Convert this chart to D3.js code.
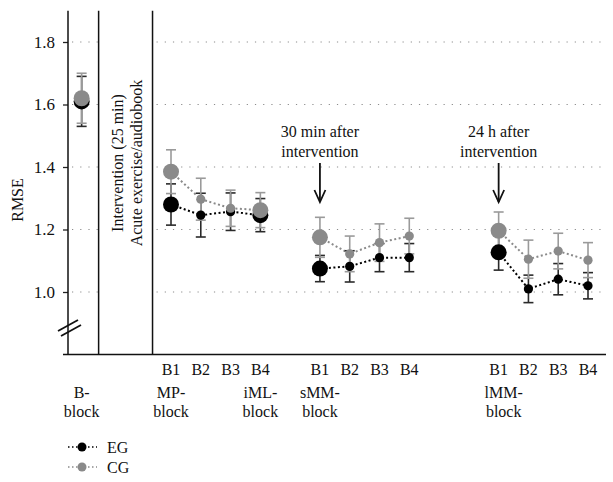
<!DOCTYPE html>
<html><head><meta charset="utf-8">
<script src="https://cdn.jsdelivr.net/npm/d3@7"></script>
<style>
body{margin:0;background:#fff;}
svg text{font-family:"Liberation Serif","Times New Roman",serif;fill:#111;}
</style></head><body><svg id="chart" width="613" height="482"></svg>
<script>
// ---- data ----
const slots      = [-3, 0, 1, 2, 3, 5, 6, 7, 8, 11, 12, 13, 14];
const tickLabels = ["", "B1","B2","B3","B4","B1","B2","B3","B4","B1","B2","B3","B4"];
const segments   = [0, 1, 1, 1, 1, 2, 2, 2, 2, 3, 3, 3, 3];
const fullBlock  = [true, true, false, false, true, true, false, false, false, true, false, false, false];
const egMean = [1.610, 1.280, 1.246, 1.257, 1.246, 1.075, 1.082, 1.110, 1.110, 1.127, 1.010, 1.041, 1.020];
const egErr  = [0.080, 0.066, 0.070, 0.060, 0.053, 0.042, 0.050, 0.045, 0.045, 0.057, 0.044, 0.050, 0.042];
const cgMean = [1.620, 1.385, 1.297, 1.268, 1.262, 1.175, 1.122, 1.158, 1.179, 1.196, 1.105, 1.131, 1.102];
const cgErr  = [0.080, 0.070, 0.067, 0.058, 0.056, 0.064, 0.057, 0.060, 0.057, 0.060, 0.061, 0.057, 0.056];
const blockLabels = ["B-", "MP-", "iML-", "sMM-", "lMM-"];
const blockSlots  = [-3, 0, 3, 5, 11.17];
const yTicks = [1.0, 1.2, 1.4, 1.6, 1.8];
const dividerSlots = [-2.43, -0.62];
const annotations = [
  {slot: 5,  lines: ["30 min after", "intervention"]},
  {slot: 11, lines: ["24 h after", "intervention"]}
];
const interventionText = ["Intervention (25 min)", "Acute exercise/audiobook"];
const seriesNames = ["EG", "CG"];

// ---- layout ----
const svg = d3.select("#chart");
const FS = 16;
const x = d3.scaleLinear().domain([0, 14]).range([171, 588]);
const y = d3.scaleLinear().domain([1.0, 1.8]).range([292, 42]);
const axisX = 68, gridEnd = 606;
const yTop = y(1.9), yBot = y(0.8);
const colEG = "#000", colCG = "#8a8a8a", errEG = "#2a2a2a", errCG = "#9a9a9a";

// gridlines (skip intervention column)
const gridSegs = [[axisX, x(dividerSlots[0])], [x(dividerSlots[1]), gridEnd]];
yTicks.forEach(t => {
  gridSegs.forEach(([a, b]) => {
    svg.append("line").attr("x1", a + 4).attr("x2", b).attr("y1", y(t)).attr("y2", y(t))
      .attr("stroke", "#8c8c8c").attr("stroke-width", 1.2).attr("stroke-dasharray", "1.2,7");
  });
});

// y axis
const yAxis = d3.axisLeft(y).tickValues(yTicks).tickFormat(d3.format(".1f")).tickSize(5).tickPadding(8);
const ag = svg.append("g").attr("transform", `translate(${axisX},0)`).call(yAxis);
ag.select(".domain").remove();
ag.selectAll(".tick line").attr("stroke", "#222").attr("stroke-width", 1.3);
ag.selectAll(".tick text").attr("font-size", 17).attr("font-family", "Liberation Serif").attr("fill", "#111");

// vertical lines
[axisX, x(dividerSlots[0]), x(dividerSlots[1])].forEach(px => {
  svg.append("line").attr("x1", px).attr("x2", px).attr("y1", yTop).attr("y2", yBot)
    .attr("stroke", "#111").attr("stroke-width", 1.5);
});
// bottom line
svg.append("line").attr("x1", axisX - 5).attr("x2", gridEnd).attr("y1", yBot).attr("y2", yBot)
  .attr("stroke", "#111").attr("stroke-width", 1.5);

// axis break
[[0, 0], [3, 5]].forEach(([dx, dy]) => {
  svg.append("line").attr("x1", 58 + dx).attr("y1", 331 + dy).attr("x2", 78 + dx).attr("y2", 320 + dy)
    .attr("stroke", "#111").attr("stroke-width", 1.8);
});

// y label
svg.append("text").attr("transform", `translate(23,200) rotate(-90)`).attr("text-anchor", "middle")
  .attr("font-size", FS).text("RMSE");

// intervention text
interventionText.forEach((t, i) => {
  svg.append("text").attr("transform", `translate(${123 + i * 19},163) rotate(-90)`)
    .attr("text-anchor", "middle").attr("font-size", FS).text(t);
});

// annotations + arrows
annotations.forEach(a => {
  const cx = x(a.slot);
  a.lines.forEach((l, i) => {
    svg.append("text").attr("x", cx).attr("y", 136.5 + i * 20).attr("text-anchor", "middle")
      .attr("font-size", FS).text(l);
  });
  svg.append("line").attr("x1", cx).attr("x2", cx).attr("y1", 163).attr("y2", 202)
    .attr("stroke", "#111").attr("stroke-width", 1.8);
  svg.append("path").attr("d", `M${cx - 5.5},${190} L${cx},${202} L${cx + 5.5},${190}`)
    .attr("fill", "none").attr("stroke", "#111").attr("stroke-width", 1.8);
});

// x tick labels
slots.forEach((s, i) => {
  if (!tickLabels[i]) return;
  svg.append("text").attr("x", x(s)).attr("y", 375).attr("text-anchor", "middle")
    .attr("font-size", FS).text(tickLabels[i]);
});
// block labels
blockLabels.forEach((b, i) => {
  const cx = x(blockSlots[i]);
  svg.append("text").attr("x", cx).attr("y", 398).attr("text-anchor", "middle").attr("font-size", FS).text(b);
  svg.append("text").attr("x", cx).attr("y", 416.5).attr("text-anchor", "middle").attr("font-size", FS).text("block");
});

// series
const series = [
  {name: seriesNames[0], mean: egMean, err: egErr, col: colEG, ecol: errEG},
  {name: seriesNames[1], mean: cgMean, err: cgErr, col: colCG, ecol: errCG}
];
const rad = i => fullBlock[i] ? 8 : 4.6;

// connecting lines
series.forEach(s => {
  [1, 2, 3].forEach(seg => {
    const idx = slots.map((_, i) => i).filter(i => segments[i] === seg);
    const line = d3.line().x(i => x(slots[i])).y(i => y(s.mean[i]));
    svg.append("path").attr("d", line(idx)).attr("fill", "none").attr("stroke", s.col)
      .attr("stroke-width", 2).attr("stroke-dasharray", "2,2.5");
  });
});
// error bars
series.forEach(s => {
  slots.forEach((sl, i) => {
    const cx = x(sl), lo = y(s.mean[i] - s.err[i]), hi = y(s.mean[i] + s.err[i]);
    const g = svg.append("g").attr("stroke", s.ecol).attr("stroke-width", 1.6);
    g.append("line").attr("x1", cx).attr("x2", cx).attr("y1", lo).attr("y2", hi);
    [lo, hi].forEach(v => g.append("line").attr("x1", cx - 5).attr("x2", cx + 5).attr("y1", v).attr("y2", v));
  });
});
// points
series.forEach(s => {
  slots.forEach((sl, i) => {
    svg.append("circle").attr("cx", x(sl)).attr("cy", y(s.mean[i])).attr("r", rad(i)).attr("fill", s.col);
  });
});

// legend
series.forEach((s, i) => {
  const ly = 447 + i * 20;
  svg.append("line").attr("x1", 68).attr("x2", 97).attr("y1", ly).attr("y2", ly)
    .attr("stroke", s.col).attr("stroke-width", 1.6).attr("stroke-dasharray", "1.5,2.5");
  svg.append("circle").attr("cx", 82).attr("cy", ly).attr("r", 4.5).attr("fill", s.col);
  svg.append("text").attr("x", 107).attr("y", ly + 5.5).attr("font-size", FS).text(s.name);
});
</script></body></html>
